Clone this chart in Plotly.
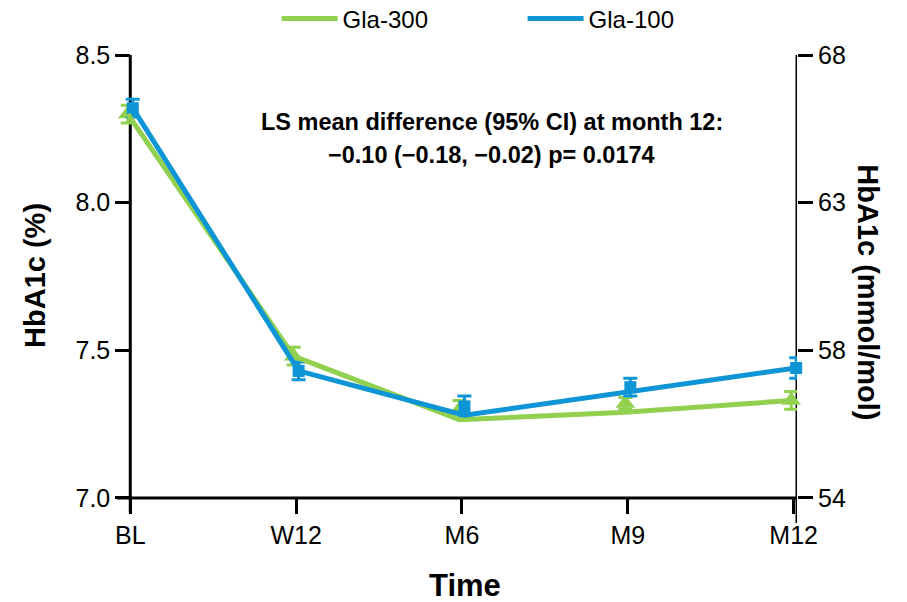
import plotly.graph_objects as go

# Visit labels and axis tick labels
time_labels = ["BL", "W12", "M6", "M9", "M12"]
pct_ticks = [7.0, 7.5, 8.0, 8.5]
pct_tick_text = ["7.0", "7.5", "8.0", "8.5"]
mmol_tick_text = ["54", "58", "63", "68"]

# Gla-300: observed means (markers, ±SE) and fitted profile (line)
gla300_mean = [8.30, 7.48, 7.30, 7.32, 7.33]
gla300_err = [0.03, 0.03, 0.03, 0.02, 0.03]
gla300_fit = [8.30, 7.48, 7.265, 7.29, 7.33]

# Gla-100: observed means (markers, ±SE) and fitted profile (line)
gla100_mean = [8.32, 7.43, 7.31, 7.375, 7.44]
gla100_err = [0.03, 0.03, 0.035, 0.03, 0.035]
gla100_fit = [8.32, 7.43, 7.28, 7.36, 7.44]

GREEN = "#92D050"
BLUE = "#0E95D6"
FONT = "Arial, Liberation Sans, sans-serif"

idx = list(range(len(time_labels)))
DODGE = 0.015
x_green = [i - DODGE for i in idx]
x_blue = [i + DODGE for i in idx]

Y_MIN, Y_MAX = 6.915, 8.5
X_MIN, X_MAX = -0.08, 4.02

fig = go.Figure()

# markers with error bars
fig.add_trace(go.Scatter(
    x=x_green, y=gla300_mean, mode="markers", showlegend=False,
    marker=dict(symbol="triangle-up", size=17, color=GREEN),
    error_y=dict(type="data", array=gla300_err, color=GREEN, thickness=3, width=7),
    cliponaxis=False,
))
fig.add_trace(go.Scatter(
    x=x_blue, y=gla100_mean, mode="markers", showlegend=False,
    marker=dict(symbol="square", size=12, color=BLUE),
    error_y=dict(type="data", array=gla100_err, color=BLUE, thickness=3, width=7),
    cliponaxis=False,
))

# fitted lines (these carry the legend entries)
fig.add_trace(go.Scatter(
    x=x_green, y=gla300_fit, mode="lines", name="Gla-300",
    line=dict(color=GREEN, width=5), cliponaxis=False,
))
fig.add_trace(go.Scatter(
    x=x_blue, y=gla100_fit, mode="lines", name="Gla-100",
    line=dict(color=BLUE, width=5), cliponaxis=False,
))

# invisible trace to activate the right-hand axis
fig.add_trace(go.Scatter(x=[None], y=[None], yaxis="y2", showlegend=False,
                         hoverinfo="skip"))

# axis lines (offset style)
axis_line = dict(color="black", width=3)
fig.add_shape(type="line", xref="x", yref="y", x0=X_MIN, x1=X_MAX, y0=7.0, y1=7.0,
              line=axis_line, layer="below")
fig.add_shape(type="line", xref="x", yref="y", x0=0, x1=0, y0=6.95, y1=8.5,
              line=axis_line, layer="below")
fig.add_shape(type="line", xref="x", yref="y", x0=X_MAX, x1=X_MAX, y0=Y_MIN, y1=8.5,
              line=axis_line, layer="below")

tick_font = dict(family=FONT, size=25, color="black")
title_font = dict(family=FONT, size=29, color="black")

fig.update_layout(
    width=907, height=602,
    margin=dict(l=117, r=110, t=55, b=79, autoexpand=False),
    plot_bgcolor="white", paper_bgcolor="white",
    font=dict(family=FONT, color="black"),
    xaxis=dict(
        range=[X_MIN, X_MAX], tickvals=idx, ticktext=time_labels,
        showgrid=False, zeroline=False, showline=False,
        ticks="outside", ticklen=15, tickwidth=3, tickcolor="black",
        tickfont=tick_font, anchor="free", position=(7.0 - Y_MIN) / (Y_MAX - Y_MIN),
    ),
    yaxis=dict(
        range=[Y_MIN, Y_MAX], tickvals=pct_ticks, ticktext=pct_tick_text,
        showgrid=False, zeroline=False, showline=False,
        ticks="outside", ticklen=15, tickwidth=3, tickcolor="black",
        tickfont=tick_font, anchor="free", position=(0 - X_MIN) / (X_MAX - X_MIN),
    ),
    yaxis2=dict(
        range=[Y_MIN, Y_MAX], tickvals=pct_ticks, ticktext=mmol_tick_text,
        overlaying="y", side="right", anchor="x",
        showgrid=False, zeroline=False, showline=False,
        ticks="outside", ticklen=15, tickwidth=3, tickcolor="black",
        tickfont=tick_font,
    ),
    legend=dict(
        orientation="h", x=0.2347, xanchor="left", y=(523 - 19) / 468, yanchor="middle",
        font=dict(family=FONT, size=24, color="black"),
        entrywidth=175, entrywidthmode="pixels", itemwidth=56,
        bgcolor="rgba(0,0,0,0)",
    ),
    showlegend=True,
)

# axis titles
fig.add_annotation(text="<b>Time</b>", xref="paper", yref="paper", x=0.512, y=-0.1325,
                   showarrow=False, font=dict(family=FONT, size=31, color="black"),
                   xanchor="center", yanchor="middle")
fig.add_annotation(text="<b>HbA1c (%)</b>", xref="paper", yref="paper", x=-0.1206, y=0.53,
                   showarrow=False, font=title_font, textangle=-90,
                   xanchor="center", yanchor="middle")
fig.add_annotation(text="<b>HbA1c (mmol/mol)</b>", xref="paper", yref="paper", x=1.104,
                   y=0.4936, showarrow=False, font=title_font, textangle=90,
                   xanchor="center", yanchor="middle")

# treatment difference note
note_font = dict(family=FONT, size=23.5, color="black")
fig.add_annotation(text="<b>LS mean difference (95% CI) at month 12:</b>", xref="paper",
                   yref="paper", x=0.551, y=(523 - 122) / 468, showarrow=False,
                   font=note_font, xanchor="center", yanchor="middle")
fig.add_annotation(text="<b>\u22120.10 (\u22120.18, \u22120.02) p= 0.0174</b>", xref="paper",
                   yref="paper", x=0.551, y=(523 - 155) / 468, showarrow=False,
                   font=note_font, xanchor="center", yanchor="middle")

fig.write_html("out.html")
